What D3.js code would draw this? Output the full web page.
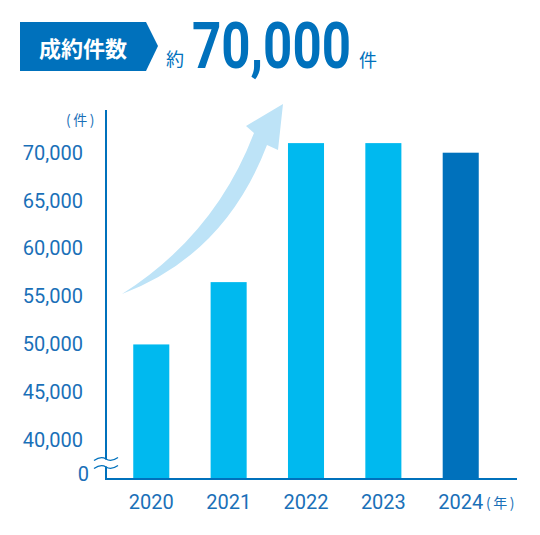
<!DOCTYPE html>
<html>
<head>
<meta charset="utf-8">
<script src="https://cdn.jsdelivr.net/npm/d3@7"></script>
<style>
body { margin: 0; background: #fff; }
svg { display: block; }
</style>
</head>
<body>
<div id="chart"></div>
<script>
// data
var years = ["2020", "2021", "2022", "2023", "2024"];
var counts = [50000, 56500, 71000, 71000, 70000];
var yTicks = [40000, 45000, 50000, 55000, 60000, 65000, 70000];
var title = "成約件数";
var headline = ["約", "70,000", "件"];

var W = 540, H = 535;
var blue = "#0071bc", light = "#00b9ef", textBlue = "#1a70b8";

var svg = d3.select("#chart").append("svg").attr("width", W).attr("height", H);

// header banner
svg.append("path")
	.attr("d", "M20,22 L146,22 L158,46 L146,71 L20,71 Z")
	.style("fill", blue);
svg.append("text").attr("x", 83).attr("y", 47).attr("text-anchor", "middle").attr("dominant-baseline", "central")
	.style("font-family", "'Noto Sans CJK JP'").style("font-weight", 700).style("font-size", "22px").style("fill", "#fff")
	.text(title);
svg.append("text").attr("x", 166).attr("y", 66)
	.style("font-family", "'Noto Sans CJK JP'").style("font-size", "18px").style("fill", blue)
	.text(headline[0]);
// big number, squeezed to the narrow look of the original
var big = svg.append("text").attr("x", 0).attr("y", 0)
	.style("font-family", "Roboto").style("font-weight", 700).style("font-size", "64px").style("fill", blue)
	.text(headline[1]);
var bigW = big.node().getComputedTextLength();
big.attr("transform", "translate(192,67.5) scale(" + (159 / bigW) + ",1)");
svg.append("text").attr("x", 359).attr("y", 67)
	.style("font-family", "'Noto Sans CJK JP'").style("font-size", "18px").style("fill", blue)
	.text(headline[2]);

// scales
var x = d3.scaleBand().domain(years).range([112.6, 499.4]).paddingInner(0.534).paddingOuter(0.267);
var y = d3.scaleLinear().domain([40000, 70000]).range([440.3, 152.7]);
var axisX = 106, baseY = 479;

// growth arrow
svg.append("path")
	.attr("d", "M122,294 Q215,235 254,133 L246,126 L283,104 L278,150 L267,145 Q225,255 122,294 Z")
	.style("fill", "#bde3f7");

// bars
svg.selectAll(".bar").data(years).enter().append("rect")
	.attr("class", "bar")
	.attr("x", function(d) { return x(d); })
	.attr("width", x.bandwidth())
	.attr("y", function(d, i) { return y(counts[i]); })
	.attr("height", function(d, i) { return baseY - y(counts[i]); })
	.style("fill", function(d, i) { return i == years.length - 1 ? blue : light; });

// y axis labels
var gy = svg.append("g").attr("transform", "translate(" + axisX + ",0)")
	.call(d3.axisLeft(y).tickValues(yTicks).tickSize(0).tickPadding(23).tickFormat(d3.format(",")));
gy.select(".domain").remove();
gy.selectAll("text").style("font-family", "Roboto").style("font-weight", 400).style("font-size", "20px").style("fill", textBlue);

svg.append("text").attr("x", 89).attr("y", 473.5).attr("text-anchor", "end").attr("dominant-baseline", "central")
	.style("font-family", "Roboto").style("font-weight", 400).style("font-size", "20px").style("fill", textBlue)
	.text("0");
svg.append("text").attr("x", 66).attr("y", 119).attr("dominant-baseline", "central")
	.style("font-family", "'Noto Sans CJK JP'").style("font-size", "14px").style("letter-spacing", "2.5px").style("fill", textBlue)
	.text("(件)");

// x axis labels
var gx = svg.append("g").attr("transform", "translate(0," + baseY + ")")
	.call(d3.axisBottom(x).tickSize(0).tickPadding(16));
gx.select(".domain").remove();
gx.selectAll("text").style("font-family", "Roboto").style("font-weight", 400).style("font-size", "20px").style("fill", textBlue);
svg.append("text").attr("x", 486).attr("y", 502).attr("dominant-baseline", "central")
	.style("font-family", "'Noto Sans CJK JP'").style("font-size", "14px").style("letter-spacing", "2.5px").style("fill", textBlue)
	.text("(年)");

// axis lines
svg.append("line").attr("x1", axisX).attr("x2", axisX).attr("y1", 110).attr("y2", baseY + 1)
	.style("stroke", blue).style("stroke-width", 2);
svg.append("line").attr("x1", axisX - 1).attr("x2", 517).attr("y1", baseY).attr("y2", baseY)
	.style("stroke", blue).style("stroke-width", 2);

// axis break
svg.append("rect").attr("x", axisX - 3).attr("y", 459.5).attr("width", 6).attr("height", 7).style("fill", "#fff");
[459, 467].forEach(function(by) {
	svg.append("path")
		.attr("d", "M94," + (by + 1.5) + " C99," + (by - 2) + " 103," + (by - 2) + " 106," + by + " S113," + (by + 2) + " 118," + (by - 1.5))
		.style("fill", "none").style("stroke", blue).style("stroke-width", 1.3);
});
</script>
</body>
</html>
